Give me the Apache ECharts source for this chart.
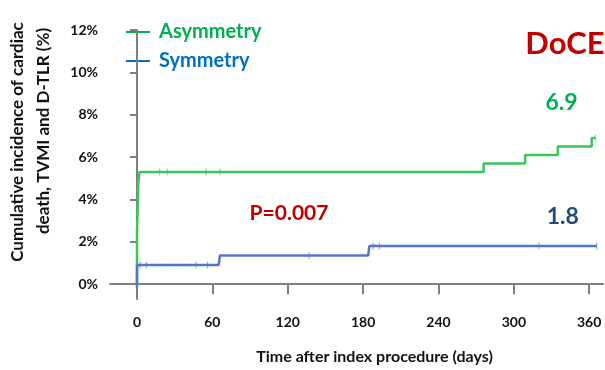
<!DOCTYPE html>
<html>
<head>
<meta charset="utf-8">
<script src="https://cdn.jsdelivr.net/npm/echarts@6/dist/echarts.min.js"></script>
<style>
  html, body { margin: 0; padding: 0; background: #fff; }
  #chart { width: 605px; height: 370px; }
</style>
</head>
<body>
<div id="chart"></div>
<script>
// Kaplan–Meier style cumulative incidence, [day, %] step points
const asymmetrySteps = [[0, 0], [0, 2.4], [1, 4.8], [2, 5.3], [276, 5.7], [309, 6.1], [335, 6.5], [362, 6.9], [365, 6.9]];
const symmetrySteps = [[0, -0.2], [0, 0.9], [65, 0.9], [66, 1.35], [184, 1.35], [185, 1.8], [366, 1.8]];
// censored observations (tick marks on the curves)
const asymmetryCensored = [[18, 5.3], [24, 5.3], [55, 5.3], [66, 5.3], [365, 6.9]];
const symmetryCensored = [[2.5, 0.9], [7.5, 0.9], [47, 0.9], [56, 0.9], [137, 1.35], [188, 1.8], [193, 1.8], [320, 1.8], [366, 1.8]];
const xTicks = [0, 60, 120, 180, 240, 300, 360];
const yTicks = [0, 2, 4, 6, 8, 10, 12];
const seriesNames = ['Asymmetry', 'Symmetry'];
const finalRates = [6.9, 1.8];
const pValueText = 'P=0.007';
const studyTag = 'DoCE';

const FONT = 'Lato';
const GREEN_LINE = '#3cc35a';
const BLUE_LINE = '#5575c8';
const GREEN_TEXT = '#00b050';
const BLUE_TEXT = '#0070c0';
const AXIS = '#7f7f7f';

function withEndLabel(points, value, color, offset) {
  return points.map((p, i) => {
    if (i !== points.length - 1) return p;
    return {
      value: p,
      label: {
        show: true, position: 'top', offset: offset,
        formatter: String(value),
        color: color, fontFamily: FONT, fontWeight: 'bold', fontSize: 23
      }
    };
  });
}
const asymData = asymmetrySteps.slice();
asymData[asymData.length - 1] = [asymData[asymData.length - 1][0], finalRates[0]];
const symData = symmetrySteps.slice();
symData[symData.length - 1] = [symData[symData.length - 1][0], finalRates[1]];

// legend key: a short coloured rule followed by the group name
function legendEntry(name, color, y) {
  return [
    { type: 'rect', shape: { x: 126, y: y - 1, width: 24, height: 2 }, style: { fill: color } },
    { type: 'text', x: 159, y: y,
      style: { text: name, align: 'left', verticalAlign: 'middle', fill: color, font: 'bold 20px Lato' } }
  ];
}

const chart = echarts.init(document.getElementById('chart'), null, { renderer: 'canvas' });
chart.setOption({
  animation: false,
  backgroundColor: '#fff',
  grid: { left: 110, right: 2, top: 30, bottom: 68, containLabel: false },
  xAxis: {
    type: 'value', min: -21.5, max: 371,
    splitLine: { show: false },
    axisLine: { lineStyle: { color: AXIS, width: 2 } },
    axisTick: { show: true, length: 10, customValues: xTicks, lineStyle: { color: AXIS, width: 2 } },
    axisLabel: { customValues: xTicks, margin: 16, color: '#111', fontFamily: FONT, fontWeight: 'bold', fontSize: 14 },
    name: 'Time after index procedure (days)',
    nameLocation: 'middle', nameGap: 50,
    nameTextStyle: { color: '#111', fontFamily: FONT, fontWeight: 'bold', fontSize: 16, padding: [0, 0, 0, 36] }
  },
  yAxis: {
    type: 'value', min: -0.7, max: 12,
    splitLine: { show: false },
    axisLine: { show: true, lineStyle: { color: AXIS, width: 2 } },
    axisTick: { show: true, length: 7, customValues: yTicks, lineStyle: { color: AXIS, width: 2 } },
    axisLabel: { customValues: yTicks, margin: 12, formatter: v => v + '%', color: '#111', fontFamily: FONT, fontWeight: 'bold', fontSize: 14 }
  },
  graphic: [
    ...legendEntry(seriesNames[0], GREEN_TEXT, 32),
    ...legendEntry(seriesNames[1], BLUE_TEXT, 61),
    { type: 'text', x: 18, y: 142, rotation: Math.PI / 2,
      style: { text: 'Cumulative incidence of cardiac', align: 'center', verticalAlign: 'middle', fill: '#111', font: 'bold 17px Lato' } },
    { type: 'text', x: 44, y: 131, rotation: Math.PI / 2,
      style: { text: 'death, TVMI and D-TLR (%)', align: 'center', verticalAlign: 'middle', fill: '#111', font: 'bold 17px Lato' } },
    { type: 'text', x: 565, y: 44,
      style: { text: studyTag, align: 'center', verticalAlign: 'middle', fill: '#c00000', font: 'bold 31px Lato' } },
    { type: 'text', x: 289, y: 213,
      style: { text: pValueText, align: 'center', verticalAlign: 'middle', fill: '#c00000', font: 'bold 21px Lato' } }
  ],
  series: [
    {
      name: seriesNames[0], type: 'line', step: 'end',
      data: withEndLabel(asymData, finalRates[0], GREEN_TEXT, [-34, -19]),
      symbol: 'circle', symbolSize: 0, showSymbol: true,
      lineStyle: { color: GREEN_LINE, width: 2.5 }, itemStyle: { color: GREEN_LINE }, z: 3
    },
    {
      name: seriesNames[1], type: 'line', step: 'end',
      data: withEndLabel(symData, finalRates[1], '#1f4e79', [-34, -13]),
      symbol: 'circle', symbolSize: 0, showSymbol: true,
      lineStyle: { color: BLUE_LINE, width: 2.5 }, itemStyle: { color: BLUE_LINE }, z: 3
    },
    {
      name: 'Asymmetry censored', type: 'scatter', data: asymmetryCensored,
      symbol: 'rect', symbolSize: [1.2, 7], itemStyle: { color: GREEN_LINE, opacity: 0.6 }, z: 2
    },
    {
      name: 'Symmetry censored', type: 'scatter', data: symmetryCensored,
      symbol: 'rect', symbolSize: [1.2, 7], itemStyle: { color: BLUE_LINE, opacity: 0.6 }, z: 2
    }
  ]
});
</script>
</body>
</html>
